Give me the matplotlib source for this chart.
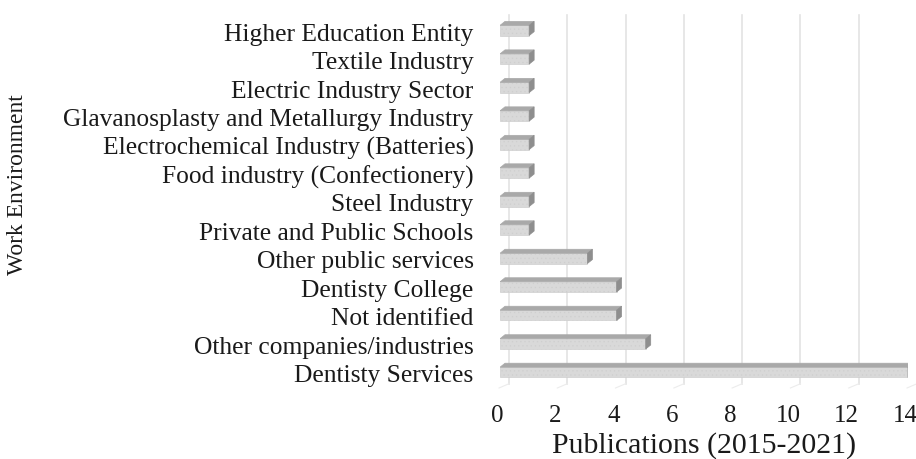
import matplotlib
matplotlib.use("Agg")
import matplotlib.pyplot as plt
from matplotlib.patches import Polygon, Rectangle
from matplotlib.transforms import ScaledTranslation

# Work environments and publication counts (bottom to top)
categories = [
    "Dentisty Services",
    "Other companies/industries",
    "Not identified",
    "Dentisty College",
    "Other public services",
    "Private and Public Schools",
    "Steel Industry",
    "Food industry (Confectionery)",
    "Electrochemical Industry (Batteries)",
    "Glavanosplasty and Metallurgy Industry",
    "Electric Industry Sector",
    "Textile Industry",
    "Higher Education Entity",
]
publications = [14, 5, 4, 4, 3, 1, 1, 1, 1, 1, 1, 1, 1]
x_ticks = [0, 2, 4, 6, 8, 10, 12, 14]

plt.rcParams["font.family"] = ["Liberation Serif", "DejaVu Serif"]
plt.rcParams["hatch.color"] = "#cbcbcb"
plt.rcParams["hatch.linewidth"] = 0.4

W, H = 916, 459
fig = plt.figure(figsize=(W / 100, H / 100), dpi=100)
ax_left, ax_right, ax_top, ax_bot = 500, 908, 12, 388
ax = fig.add_axes([ax_left / W, 1 - ax_bot / H, (ax_right - ax_left) / W, (ax_bot - ax_top) / H])

xmin, xmax = 0, 14
ymin, ymax = -0.6, len(categories) - 0.4
ax.set_xlim(xmin, xmax)
ax.set_ylim(ymin, ymax)

px_x = (ax_right - ax_left) / (xmax - xmin)
px_y = (ax_bot - ax_top) / (ymax - ymin)

# depth of the 3D effect in data units
depth_x = 5 / px_x
depth_y = 4 / px_y
grid_dx = 9 / px_x

# back-wall gridlines with small floor ticks
for t in x_ticks:
    ax.plot([t + grid_dx, t + grid_dx], [ymin + 0.15, ymax - 0.1], color="#e3e3e3",
            lw=1.2, zorder=0, clip_on=False)
    ax.plot([t + grid_dx, t + grid_dx - 10 / px_x], [ymin + 0.15, ymin],
            color="#ececec", lw=0.8, zorder=0, clip_on=False)

bar_h = 0.36
front_c = "#d9d9d9"
top_c = "#a9a9a9"
side_c = "#8e8e8e"

for i, v in enumerate(publications):
    y0 = i - bar_h / 2 - 0.05
    y1 = y0 + bar_h
    front = Rectangle((0, y0), v, bar_h, facecolor=front_c, edgecolor="#cfcfcf",
                      lw=0.5, hatch="....", zorder=3)
    ax.add_patch(front)
    top = Polygon([(0, y1), (v, y1), (v + depth_x, y1 + depth_y), (depth_x, y1 + depth_y)],
                  closed=True, facecolor=top_c, edgecolor=top_c, lw=0.5, zorder=3)
    ax.add_patch(top)
    side = Polygon([(v, y0), (v, y1), (v + depth_x, y1 + depth_y), (v + depth_x, y0 + depth_y)],
                   closed=True, facecolor=side_c, edgecolor=side_c, lw=0.5, zorder=3)
    ax.add_patch(side)

ax.set_yticks(range(len(categories)))
ax.set_yticklabels(categories, fontsize=18.4, color="#1a1a1a")
ax.set_xticks(x_ticks)
ax.set_xticklabels([str(t) for t in x_ticks], fontsize=18, color="#1a1a1a")
ax.tick_params(axis="y", length=0, pad=19)
ax.tick_params(axis="x", length=0, pad=12)
shift = ScaledTranslation(-3 / 100, 0, fig.dpi_scale_trans)
for lab in ax.get_xticklabels():
    lab.set_transform(lab.get_transform() + shift)
for lab in ax.get_yticklabels():
    lab.set_transform(lab.get_transform() + ScaledTranslation(0, -3 / 100, fig.dpi_scale_trans))
for s in ax.spines.values():
    s.set_visible(False)

ax.set_xlabel("Publications (2015-2021)", fontsize=21.5, color="#1a1a1a", labelpad=4)
fig.text(18 / W, 1 - 185 / H, "Work Environment", rotation=90, fontsize=17,
         color="#1a1a1a", ha="center", va="center")

fig.savefig("out.png", dpi=100)
